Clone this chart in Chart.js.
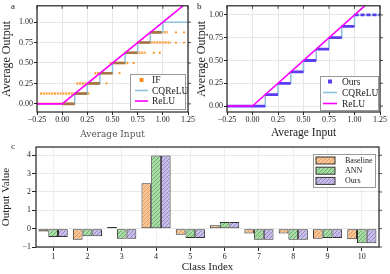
<!DOCTYPE html>
<html>
<head>
<meta charset="utf-8">
<script src="https://cdn.jsdelivr.net/npm/chart.js@4.4.0/dist/chart.umd.min.js"></script>
<style>
  html, body { margin: 0; padding: 0; background: #fff; }
  #wrap { position: relative; width: 390px; height: 274px; overflow: hidden; }
  canvas { position: absolute; }
</style>
</head>
<body>
<div id="wrap">
  <canvas id="chartA" width="195" height="140" style="left:0;top:0"></canvas>
  <canvas id="chartB" width="195" height="140" style="left:195px;top:0"></canvas>
  <canvas id="chartC" width="390" height="134" style="left:0;top:140px"></canvas>
</div>
<script>
// ---- data: panels a / b ----
var ticksX = [-0.25, 0, 0.25, 0.5, 0.75, 1, 1.25];
var ticksY = [0, 0.25, 0.5, 0.75, 1];

// ReLU corners (a runs up to the top edge at 1.2, b up to 1.1)
var reluXa = [-0.25, 0, 1.2];
var reluYa = [0, 0, 1.2];
var reluXb = [-0.25, 0, 1.1];
var reluYb = [0, 0, 1.1];

// CQReLU staircase corners (flat, then rise at each x)
var cqX = [-0.25, 0.125, 0.25, 0.375, 0.5, 0.625, 0.75, 0.875, 1.0, 1.25];
var cqY = [0, 0.125, 0.25, 0.375, 0.5, 0.625, 0.75, 0.875, 1.0, 1.0];

// IF neuron outputs: dense runs [from, to, level]
var ifRuns = [
  [-0.25, 0.125, 0], [-0.22, 0.27, 0.125], [0.14, 0.37, 0.25], [0.32, 0.51, 0.375],
  [0.47, 0.66, 0.5], [0.62, 0.83, 0.625], [0.74, 1.08, 0.75], [0.87, 1.05, 0.875]
];
// where IF runs pile up on the CQReLU step (darker)
var ifCore = [
  [0, 0.125, 0], [0.125, 0.25, 0.125], [0.25, 0.375, 0.25], [0.375, 0.5, 0.375],
  [0.5, 0.625, 0.5], [0.625, 0.75, 0.625], [0.75, 0.875, 0.75], [0.875, 0.99, 0.875]
];
// isolated IF samples
var ifDotsX = [0.44, 0.57, 0.71, 0.91, 0.97, 1.13, 1.21, 1.13, 1.21];
var ifDotsY = [0.25, 0.375, 0.5, 0.625, 0.625, 0.75, 0.75, 0.875, 0.875];

// Ours: runs [from, to, level]
var oursRuns = [
  [-0.25, 0.125, 0], [0.125, 0.25, 0.125], [0.25, 0.375, 0.25], [0.375, 0.5, 0.375],
  [0.5, 0.625, 0.5], [0.625, 0.75, 0.625], [0.75, 0.875, 0.75], [0.875, 1.0, 0.875]
];
var oursTail = [[1.0, 1.25, 1.0]];

// ---- data: panel c ----
var classes = ['1', '2', '3', '4', '5', '6', '7', '8', '9', '10'];
var baseline = [-0.15, -0.6, 0.09, 2.47, -0.33, 0.18, -0.27, -0.27, -0.55, -0.58];
var annVals = [-0.45, -0.42, -0.55, 3.98, -0.51, 0.36, -0.6, -0.6, -0.51, -0.79];
var oursVals = [-0.45, -0.42, -0.55, 3.98, -0.51, 0.36, -0.6, -0.6, -0.51, -0.79];
var ticksC = [-1, 0, 1, 2, 3, 4];

// ---- helpers ----
Chart.defaults.font.family = "'Liberation Serif', 'Times New Roman', serif";
Chart.defaults.color = '#222';

function zipXY(xs, ys) {
  return xs.map(function(x, i) { return { x: x, y: ys[i] }; });
}
function runsToPoints(runs) {
  var pts = [];
  runs.forEach(function(r) {
    pts.push({ x: r[0], y: r[2] }, { x: r[1], y: r[2] }, { x: r[1], y: null });
  });
  return pts;
}
function minus(s) { return String(s).replace('-', '\u2212'); }
function fmt2(v) { return minus((Math.abs(v) < 1e-9 ? 0 : v).toFixed(2)); }
function fixedTicks(list) {
  return function(scale) { scale.ticks = list.map(function(v) { return { value: v }; }); };
}
function hatch(bg, fg) {
  var c = document.createElement('canvas');
  c.width = 4; c.height = 4;
  var g = c.getContext('2d');
  g.fillStyle = bg; g.fillRect(0, 0, 4, 4);
  g.strokeStyle = fg; g.lineWidth = 0.9;
  g.beginPath();
  g.moveTo(0, 4); g.lineTo(4, 0);
  g.moveTo(-1, 1); g.lineTo(1, -1);
  g.moveTo(3, 5); g.lineTo(5, 3);
  g.stroke();
  return g.createPattern(c, 'repeat');
}

// frame round the plot + mirrored ticks on the right (and top)
var framePlugin = {
  id: 'frame',
  afterDraw: function(chart) {
    var a = chart.chartArea, ctx = chart.ctx;
    var o = chart.options.plugins.frame || {};
    ctx.save();
    ctx.strokeStyle = '#222';
    ctx.lineWidth = 1.2;
    ctx.strokeRect(a.left, a.top, a.right - a.left, a.bottom - a.top);
    ctx.lineWidth = 0.8;
    ctx.beginPath();
    chart.scales.y.ticks.forEach(function(t) {
      var py = chart.scales.y.getPixelForValue(t.value);
      ctx.moveTo(a.right, py); ctx.lineTo(a.right + 3, py);
    });
    if (o.top) {
      chart.scales.x.ticks.forEach(function(t) {
        var px = chart.scales.x.getPixelForValue(t.value);
        ctx.moveTo(px, a.top); ctx.lineTo(px, a.top + 3);
      });
    }
    ctx.stroke();
    ctx.restore();
  }
};

// boxed legend drawn at a fixed spot inside the plot
var boxLegendPlugin = {
  id: 'boxLegend',
  afterDraw: function(chart) {
    var o = chart.options.plugins.boxLegend;
    if (!o) return;
    var ctx = chart.ctx;
    ctx.save();
    ctx.fillStyle = '#fff';
    ctx.fillRect(o.x, o.y, o.w, o.h);
    ctx.strokeStyle = '#999';
    ctx.lineWidth = 1;
    ctx.strokeRect(o.x + 0.5, o.y + 0.5, o.w, o.h);
    ctx.font = o.fontSize + "px 'Liberation Serif', serif";
    ctx.textBaseline = 'middle';
    o.items.forEach(function(it, i) {
      var cy = o.y + o.firstRow + i * o.rowH;
      var mx = o.x + o.markX;
      if (it.kind === 'line') {
        ctx.strokeStyle = it.color; ctx.lineWidth = 1.6;
        ctx.beginPath(); ctx.moveTo(mx, cy); ctx.lineTo(mx + o.markW, cy); ctx.stroke();
      } else if (it.kind === 'square') {
        ctx.fillStyle = it.color;
        ctx.fillRect(mx + o.markW / 2 - 2, cy - 2, 4, 4);
      } else {
        ctx.fillStyle = it.color;
        ctx.fillRect(mx, cy - 3.5, o.markW, 7);
        ctx.strokeStyle = '#333'; ctx.lineWidth = 1;
        ctx.strokeRect(mx, cy - 3.5, o.markW, 7);
      }
      ctx.fillStyle = '#222';
      ctx.fillText(it.text, o.x + o.textX, cy + 0.5);
    });
    ctx.restore();
  }
};

// small panel letter
var tagPlugin = {
  id: 'panelTag',
  afterDraw: function(chart) {
    var o = chart.options.plugins.panelTag;
    var ctx = chart.ctx;
    ctx.save();
    ctx.font = "9px 'Liberation Serif', serif";
    ctx.fillStyle = '#222';
    ctx.textBaseline = 'middle';
    ctx.fillText(o.text, o.x, o.y);
    ctx.restore();
  }
};

function lineScales(yMax, yMin, yWidth, xTitleFont, xTitleColor) {
  return {
    x: {
      type: 'linear', min: -0.25, max: 1.25,
      afterBuildTicks: fixedTicks(ticksX),
      afterFit: function(s) { s.height = 28; },
      border: { display: false },
      grid: { color: '#e6e6e6', tickColor: '#222', tickLength: 3 },
      ticks: { font: { size: 8 }, padding: 0, maxRotation: 0, autoSkip: false, callback: fmt2 },
      title: { display: true, text: 'Average Input', color: xTitleColor, font: xTitleFont, padding: { top: 1, bottom: 0 } }
    },
    y: {
      type: 'linear', min: yMin, max: yMax,
      afterBuildTicks: fixedTicks(ticksY),
      afterFit: function(s) { s.width = yWidth; },
      border: { display: false },
      grid: { color: '#e6e6e6', tickColor: '#222', tickLength: 3 },
      ticks: { font: { size: 8 }, padding: 1, autoSkip: false, callback: fmt2 },
      title: { display: true, text: 'Average Output', font: { size: 12 }, padding: { top: 0, bottom: 0 } }
    }
  };
}

function lineSet(data, color, width, extra) {
  var d = { data: data, showLine: true, borderColor: color, backgroundColor: color,
            borderWidth: width, pointRadius: 0, spanGaps: false };
  for (var k in extra) d[k] = extra[k];
  return d;
}

// ---- panel a ----
new Chart(document.getElementById('chartA'), {
  type: 'scatter',
  data: {
    datasets: [
      lineSet(zipXY(reluXa, reluYa), '#ff00ff', 1.6, { label: 'ReLU' }),
      lineSet(runsToPoints(ifCore), '#a47748', 2.6, { label: 'IF core' }),
      lineSet(zipXY(cqX, cqY), '#8ec1dd', 1.5, { label: 'CQReLU', stepped: 'before' }),
      lineSet(runsToPoints(ifRuns), 'rgba(255,140,20,0.8)', 2.5, { label: 'IF', borderDash: [2, 0.8] }),
      { label: 'IF dots', data: zipXY(ifDotsX, ifDotsY), pointStyle: 'rect', pointRadius: 1.3,
        backgroundColor: '#ff8c14', borderWidth: 0 }
    ]
  },
  options: {
    responsive: false, devicePixelRatio: 1, animation: false,
    layout: { padding: { top: 4, right: 5, left: 0, bottom: 0 } },
    plugins: {
      legend: { display: false }, tooltip: { enabled: false },
      frame: { top: true },
      panelTag: { text: 'a', x: 11, y: 7 },
      boxLegend: { x: 130, y: 74, w: 55, h: 35, firstRow: 6, rowH: 10.5, markX: 5, markW: 13, textX: 22, fontSize: 9.5,
        items: [
          { text: 'IF', kind: 'square', color: '#ff8c14' },
          { text: 'CQReLU', kind: 'line', color: '#8ec1dd' },
          { text: 'ReLU', kind: 'line', color: '#ff00ff' }
        ] }
    },
    scales: lineScales(1.2, -0.1, 37, { size: 9, family: "'DejaVu Serif', serif" }, '#555')
  },
  plugins: [framePlugin, boxLegendPlugin, tagPlugin]
});

// ---- panel b ----
new Chart(document.getElementById('chartB'), {
  type: 'scatter',
  data: {
    datasets: [
      lineSet(zipXY(reluXb, reluYb), '#ff00ff', 1.6, { label: 'ReLU' }),
      lineSet(runsToPoints(oursRuns), '#5b3cf0', 2.8, { label: 'Ours' }),
      lineSet(runsToPoints(oursTail), '#5b3cf0', 2.8, { label: 'Ours tail', borderDash: [4, 2] }),
      lineSet(zipXY(cqX, cqY), '#8ec1dd', 1.5, { label: 'CQReLU', stepped: 'before' })
    ]
  },
  options: {
    responsive: false, devicePixelRatio: 1, animation: false,
    layout: { padding: { top: 5, right: 10, left: 0, bottom: 0 } },
    plugins: {
      legend: { display: false }, tooltip: { enabled: false },
      frame: { top: true },
      panelTag: { text: 'b', x: 2, y: 7 },
      boxLegend: { x: 125, y: 76, w: 58, h: 34, firstRow: 5.5, rowH: 11, markX: 3, markW: 14, textX: 22, fontSize: 9.5,
        items: [
          { text: 'Ours', kind: 'square', color: '#5b3cf0' },
          { text: 'CQReLU', kind: 'line', color: '#8ec1dd' },
          { text: 'ReLU', kind: 'line', color: '#ff00ff' }
        ] }
    },
    scales: lineScales(1.1, -0.065, 32, { size: 11.5 }, '#222')
  },
  plugins: [framePlugin, boxLegendPlugin, tagPlugin]
});

// ---- panel c ----
var patBase = hatch('#f8c597', '#e3955a');
var patAnn = hatch('#a9dca6', '#5eaa5e');
var patOurs = hatch('#c9bee7', '#8e7dc2');

function barSet(label, data, pat) {
  return { label: label, data: data, backgroundColor: pat, borderColor: '#333', borderWidth: 1,
           borderSkipped: false, categoryPercentage: 0.85, barPercentage: 1 };
}

new Chart(document.getElementById('chartC'), {
  type: 'bar',
  data: {
    labels: classes,
    datasets: [
      barSet('Baseline', baseline, patBase),
      barSet('ANN', annVals, patAnn),
      barSet('Ours', oursVals, patOurs)
    ]
  },
  options: {
    responsive: false, devicePixelRatio: 1, animation: false,
    layout: { padding: { top: 7, right: 11, left: 0, bottom: 0 } },
    plugins: {
      legend: { display: false }, tooltip: { enabled: false },
      frame: { top: false },
      panelTag: { text: 'c', x: 11, y: 7 },
      boxLegend: { x: 313, y: 14, w: 62, h: 33, firstRow: 6.5, rowH: 10.2, markX: 3, markW: 19, textX: 32, fontSize: 8,
        items: [
          { text: 'Baseline', kind: 'patch', color: patBase },
          { text: 'ANN', kind: 'patch', color: patAnn },
          { text: 'Ours', kind: 'patch', color: patOurs }
        ] }
    },
    scales: {
      x: {
        afterFit: function(s) { s.height = 27; },
        border: { display: false },
        grid: { color: '#eeeeee', tickColor: '#222', tickLength: 4, offset: false },
        ticks: { font: { size: 8 }, padding: 1, maxRotation: 0, autoSkip: false },
        title: { display: true, text: 'Class Index', font: { size: 11 }, padding: { top: 0, bottom: 0 } }
      },
      y: {
        min: -1, max: 4.45,
        afterBuildTicks: fixedTicks(ticksC),
        afterFit: function(s) { s.width = 36; },
        border: { display: false },
        grid: { color: '#e8e8e8', tickColor: '#222', tickLength: 4 },
        ticks: { font: { size: 8 }, padding: 1, autoSkip: false, callback: function(v) { return minus(v); } },
        title: { display: true, text: 'Output Value', font: { size: 11 }, padding: { top: 0, bottom: 0 } }
      }
    }
  },
  plugins: [framePlugin, boxLegendPlugin, tagPlugin]
});
</script>
</body>
</html>
